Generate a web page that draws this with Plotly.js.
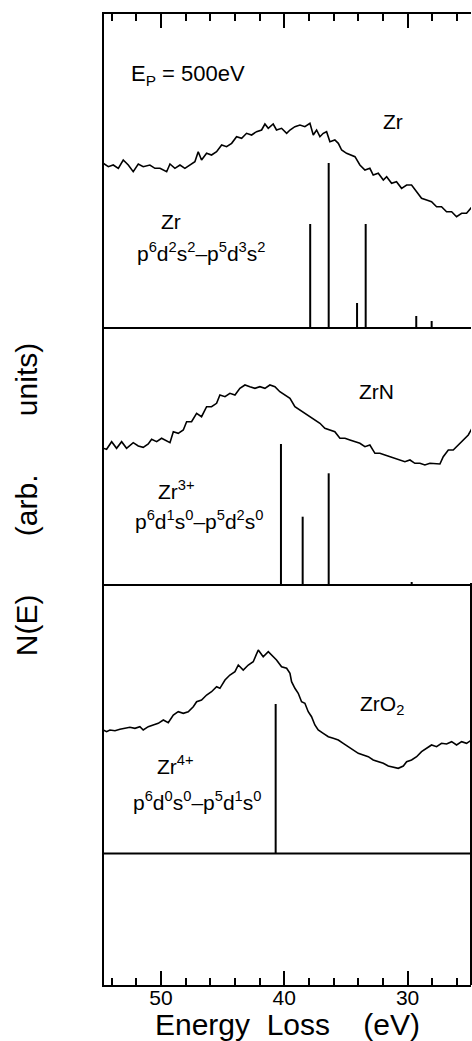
<!DOCTYPE html>
<html>
<head>
<meta charset="utf-8">
<script src="https://cdn.plot.ly/plotly-3.0.1.min.js"></script>
<style>html,body{margin:0;padding:0;background:#fff;}#chart{width:472px;height:1041px;}</style>
</head>
<body>
<div id="chart"></div>
<script>
// ---- Zr metal spectrum (energy loss, eV / intensity, arb.) ----
var zrE = [54.68,54.27,53.87,53.46,53.06,52.65,52.25,51.84,51.44,50.9,50.49,50.08,49.54,49.27,48.87,48.46,48.06,47.65,47.25,46.98,
           46.71,46.3,45.9,45.49,45.08,44.68,44.27,43.87,43.46,43.06,42.65,42.25,41.84,41.57,41.3,40.9,40.63,40.22,39.81,39.54,
           39.14,38.73,38.33,37.92,37.65,37.38,37.11,36.84,36.57,36.3,35.9,35.62,35.35,34.95,34.54,34.27,33.87,33.46,33.06,32.79,
           32.38,31.97,31.7,31.3,30.9,30.49,30.08,29.68,29.27,28.87,28.46,28.06,27.65,27.25,26.84,26.43,26.03,25.62,25.22,24.78];
var zrI = [82.17,81.83,82.0,81.67,82.5,82.0,81.33,82.1,81.83,82.0,81.67,81.67,81.33,82.1,81.67,82.0,81.67,82.0,82.33,83.33,
           82.5,83.17,83.0,83.33,84.0,83.83,84.17,84.83,84.67,85.17,85.0,85.33,85.5,86.1,85.67,86.1,85.5,85.67,85.17,85.5,
           85.83,86.0,85.83,86.17,85.0,85.5,84.83,85.17,85.33,84.33,84.5,84.17,83.5,83.17,83.0,82.83,82.0,81.5,81.67,81.0,
           81.17,80.5,80.83,80.17,80.33,79.67,80.0,80.0,79.33,78.67,78.5,78.33,77.83,77.83,77.33,77.33,76.83,77.17,77.17,77.83];

// ---- ZrN spectrum ----
var zrnE = [54.68,54.41,54.0,53.6,53.19,52.79,52.25,51.84,51.44,51.03,50.76,50.35,49.95,49.54,49.27,49.0,48.6,48.19,47.92,47.52,
            47.11,46.71,46.3,45.9,45.49,45.22,44.81,44.41,44.0,43.6,43.19,42.79,42.38,41.98,41.57,41.17,40.76,40.36,39.95,39.54,
            39.14,38.73,38.33,37.92,37.52,37.11,36.71,36.3,35.9,35.49,35.08,34.68,34.27,33.87,33.46,33.06,32.65,32.25,31.84,31.43,
            31.03,30.62,30.22,29.81,29.41,29.0,28.6,28.19,27.79,27.38,27.11,26.7,26.3,25.89,25.49,25.08,24.78];
var zrnI = [53.67,53.57,54.33,53.67,54.33,53.67,54.23,53.9,53.77,54.1,54.57,54.33,54.67,54.43,54.23,55.33,55.17,55.5,56.33,56.33,
            57.17,56.83,57.83,57.83,58.17,59.0,58.83,59.17,59.0,59.67,60.0,59.83,59.67,59.83,59.67,60.0,59.83,59.33,59.0,58.67,
            57.83,57.5,57.17,56.83,56.5,56.17,55.67,55.5,55.33,54.67,54.67,54.5,54.33,54.17,53.83,54.0,53.17,53.17,53.0,52.83,
            52.67,52.5,52.33,52.5,52.17,52.17,52.0,52.17,52.1,52.1,52.83,53.5,53.5,54.0,54.5,55.0,55.67];

// ---- ZrO2 spectrum ----
var zro2E = [54.68,54.41,54.14,53.73,53.33,52.92,52.52,52.11,51.71,51.44,51.03,50.63,50.22,49.81,49.41,49.0,48.6,48.19,47.79,47.38,
             47.11,46.71,46.3,45.9,45.49,45.22,44.81,44.41,44.0,43.73,43.33,42.92,42.52,42.11,41.71,41.3,41.03,40.63,40.22,39.81,39.54,
             39.41,39.14,38.87,38.6,38.33,38.06,37.79,37.52,37.25,36.84,36.43,36.03,35.62,35.22,34.81,34.41,34.0,33.6,33.19,32.79,
             32.38,31.97,31.57,31.16,30.76,30.35,30.08,29.68,29.27,28.87,28.46,28.06,27.65,27.25,26.84,26.43,26.03,25.62,25.22,24.81];
var zro2I = [25.5,25.33,25.5,25.43,25.57,25.67,25.77,25.67,25.83,25.5,25.83,26.0,26.17,26.5,26.23,27.0,27.33,27.17,27.33,27.83,
             28.33,28.5,29.0,29.33,29.83,29.67,30.5,31.0,31.33,32.0,31.5,32.0,32.33,33.5,32.83,33.33,33.0,32.5,31.83,31.67,31.17,
             30.33,29.67,29.17,28.33,28.17,27.33,26.83,26.0,25.5,25.17,24.83,24.67,24.5,24.17,23.83,23.5,23.17,23.0,22.83,22.5,
             22.33,22.17,21.9,21.77,21.67,21.9,22.33,22.5,22.83,23.33,23.67,24.0,23.83,24.17,24.1,24.33,24.0,24.33,24.17,24.5];

// ---- calculated multiplet lines (energy, eV / relative strength) ----
var zrLineE  = [37.9, 36.4, 34.1, 33.4, 29.3, 28.05];
var zrLineH  = [10.4, 16.5, 2.5, 10.4, 1.2, 0.7];
var zrBase   = 65.7;
var zrnLineE = [40.27, 38.51, 36.4, 29.67];
var zrnLineH = [14.1, 6.83, 11.17, 0.3];
var zrnBase  = 40.0;
var zro2LineE = [40.7];
var zro2LineH = [14.95];
var zro2Base  = 13.15;

var xTickVals = [50, 40, 30];
var xRange = [54.62, 24.86];
var yRange = [0, 97.1];

function sticks(E, H, base) {
  var x = [], y = [];
  for (var i = 0; i < E.length; i++) { x.push(E[i], E[i], null); y.push(base, base + H[i], null); }
  return {x: x, y: y, mode: 'lines', line: {color: '#000', width: 2}, hoverinfo: 'skip', showlegend: false};
}
function baseline(base) {
  return {x: xRange, y: [base, base], mode: 'lines', line: {color: '#000', width: 2}, hoverinfo: 'skip', showlegend: false};
}
function spec(E, I) {
  return {x: E, y: I, mode: 'lines', line: {color: '#000', width: 1.6}, showlegend: false};
}

var traces = [
  spec(zrE, zrI), spec(zrnE, zrnI), spec(zro2E, zro2I),
  baseline(zrBase), baseline(zrnBase), baseline(zro2Base),
  sticks(zrLineE, zrLineH, zrBase), sticks(zrnLineE, zrnLineH, zrnBase), sticks(zro2LineE, zro2LineH, zro2Base)
];

var F = 'Arial, "Liberation Sans", Helvetica, sans-serif';
var NB = '\u00A0';
var SP7 = NB + NB + NB + NB + NB + NB + NB;
function lab(x, y, t, size, anchor) {
  return {x: x, y: y, xref: 'x', yref: 'y', text: t, showarrow: false, xanchor: anchor || 'center', yanchor: 'middle',
          font: {family: F, size: size, color: '#000'}};
}

var layout = {
  width: 472, height: 1041,
  margin: {l: 104, r: 1, t: 14, b: 56},
  paper_bgcolor: '#fff', plot_bgcolor: '#fff',
  font: {family: F, color: '#000'},
  xaxis: {
    range: xRange, showgrid: false, zeroline: false,
    showline: true, linecolor: '#000', linewidth: 2, mirror: 'ticks',
    ticks: 'inside', ticklen: 14, tickwidth: 2, tickcolor: '#000',
    tickmode: 'array', tickvals: xTickVals,
    minor: {dtick: 2, tick0: 0, ticks: 'inside', ticklen: 7, tickwidth: 2, tickcolor: '#000', showgrid: false},
    tickfont: {family: F, size: 21, color: '#000'},
    ticklabelstandoff: -7,
    automargin: false,
    title: {text: NB + 'Energy' + NB + NB + 'Loss' + NB + NB + NB + NB + '(eV)', font: {family: F, size: 30, color: '#000'}, standoff: 6}
  },
  yaxis: {
    range: yRange, showgrid: false, zeroline: false, showticklabels: false,
    showline: true, linecolor: '#000', linewidth: 2, ticks: '',
    automargin: false,
    title: {text: 'N(E)' + SP7 + '(arb.' + SP7 + 'units)', font: {family: F, size: 30, color: '#000'}, standoff: 56}
  },
  shapes: [
    {type: 'line', xref: 'paper', yref: 'y', x0: 1, x1: 1, y0: 0, y1: zrnBase + 0.2, line: {color: '#000', width: 2}}
  ],
  annotations: [
    lab(52.6, 91.0, 'E<sub>P</sub> = 500eV', 22, 'left'),
    lab(31.19, 86.4, 'Zr', 21),
    lab(49.19, 76.4, 'Zr', 21),
    lab(46.76, 73.3, 'p<sup>6</sup>d<sup>2</sup>s<sup>2</sup>\u2013p<sup>5</sup>d<sup>3</sup>s<sup>2</sup>', 21),
    lab(32.49, 59.4, 'ZrN', 21),
    lab(48.78, 49.5, 'Zr<sup>3+</sup>', 21),
    lab(46.92, 46.5, 'p<sup>6</sup>d<sup>1</sup>s<sup>0</sup>\u2013p<sup>5</sup>d<sup>2</sup>s<sup>0</sup>', 21),
    lab(32.08, 28.0, 'ZrO<sub>2</sub>', 21),
    lab(48.86, 22.0, 'Zr<sup>4+</sup>', 21),
    lab(47.08, 18.4, 'p<sup>6</sup>d<sup>0</sup>s<sup>0</sup>\u2013p<sup>5</sup>d<sup>1</sup>s<sup>0</sup>', 21)
  ]
};

Plotly.newPlot('chart', traces, layout, {staticPlot: true, displayModeBar: false});
</script>
</body>
</html>
